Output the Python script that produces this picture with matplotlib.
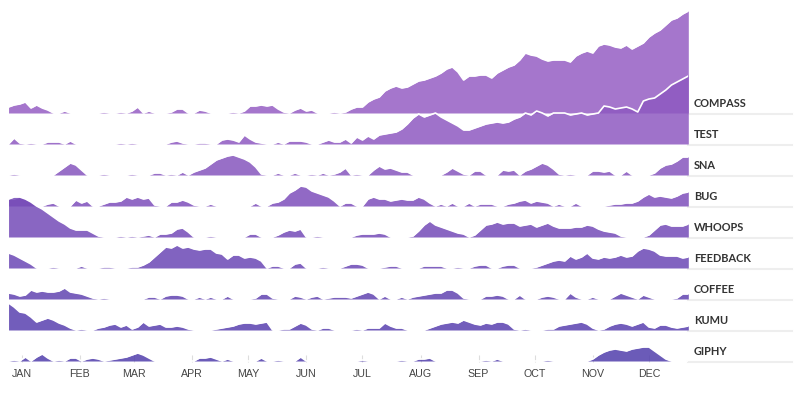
import pandas as pd
import matplotlib.pyplot as plt
import matplotlib.transforms as mtransforms

# --- data: daily activity per channel, sampled every 3 days ---
dates = pd.date_range('2015-12-25', periods=122, freq='3D')

channels = ['COMPASS', 'TEST', 'SNA', 'BUG', 'WHOOPS', 'FEEDBACK', 'COFFEE', 'KUMU', 'GIPHY']

compass = [6, 8, 9, 11, 5, 8, 5, 3, 0, 0,
           2, 0, 0, 0, 0, 0, 0, 1, 0, 0,
           1, 0, 2, 6, 0, 2, 0, 0, 0, 1,
           4, 4, 0, 0, 3, 2, 0, 0, 0, 0,
           1, 0, 2, 7, 7, 8, 7, 8, 4, 1,
           0, 3, 5, 2, 3, 0, 0, 0, 1, 0,
           1, 4, 6, 6, 11, 14, 16, 22, 25, 27,
           25, 26, 29, 32, 33, 35, 37, 40, 44, 46,
           41, 33, 37, 37, 38, 38, 35, 40, 43, 46,
           48, 53, 60, 58, 57, 54, 52, 53, 53, 53,
           51, 57, 60, 62, 60, 67, 69, 68, 66, 65,
           68, 64, 67, 70, 76, 80, 83, 88, 93, 95,
           99, 102]
test = [0, 6, 1, 0, 1, 0, 0, 2, 2, 2,
        0, 3, 0, 0, 0, 0, 0, 0, 0, 0,
        1, 0, 1, 0, 0, 0, 0, 0, 0, 2,
        3, 1, 0, 0, 1, 1, 0, 0, 4, 5,
        4, 2, 9, 5, 2, 1, 0, 0, 2, 0,
        3, 3, 3, 2, 0, 0, 2, 4, 2, 2,
        5, 1, 7, 4, 8, 5, 9, 10, 11, 12,
        15, 20, 26, 30, 27, 29, 31, 27, 24, 21,
        18, 14, 14, 16, 18, 20, 21, 22, 21, 22,
        25, 27, 31, 29, 33, 31, 28, 31, 31, 31,
        29, 30, 31, 29, 30, 31, 38, 37, 35, 36,
        37, 35, 32, 43, 45, 46, 50, 54, 59, 62,
        65, 68]
sna = [0, 1, 0, 0, 0, 0, 0, 0, 0, 4,
       8, 12, 10, 5, 0, 0, 0, 1, 0, 0,
       0, 0, 1, 0, 0, 0, 2, 2, 0, 1,
       0, 3, 0, 3, 5, 7, 11, 15, 17, 19,
       20, 18, 16, 13, 8, 1, 0, 0, 2, 0,
       0, 2, 0, 0, 1, 0, 2, 0, 1, 3,
       7, 0, 1, 0, 0, 5, 9, 6, 7, 5,
       3, 3, 0, 0, 0, 0, 0, 0, 3, 7,
       4, 1, 0, 4, 4, 0, 0, 0, 5, 4,
       5, 0, 4, 6, 9, 12, 10, 6, 1, 0,
       1, 0, 0, 0, 4, 4, 3, 4, 0, 0,
       4, 0, 0, 0, 0, 2, 7, 10, 11, 14,
       18, 18]
bug = [7, 7, 9, 8, 4, 0, 0, 2, 3, 0,
       0, 0, 6, 3, 5, 0, 0, 2, 4, 4,
       5, 9, 7, 9, 7, 8, 1, 0, 0, 4,
       4, 6, 4, 1, 0, 0, 2, 0, 0, 0,
       0, 0, 0, 0, 3, 0, 0, 3, 4, 7,
       13, 16, 20, 19, 15, 13, 11, 9, 5, 0,
       3, 3, 0, 0, 7, 9, 7, 7, 5, 6,
       7, 6, 6, 9, 7, 3, 0, 2, 0, 3,
       0, 0, 3, 0, 2, 2, 2, 0, 0, 2,
       3, 5, 6, 3, 5, 4, 3, 0, 2, 0,
       0, 3, 0, 0, 0, 0, 0, 1, 2, 2,
       3, 3, 5, 9, 12, 9, 10, 9, 8, 10,
       13, 14]
whoops = [38, 40, 40, 38, 35, 31, 28, 24, 20, 16,
          13, 9, 7, 7, 7, 4, 1, 0, 0, 0,
          1, 0, 1, 0, 1, 2, 0, 3, 3, 4,
          8, 9, 5, 0, 0, 0, 1, 0, 0, 0,
          0, 0, 0, 3, 3, 0, 0, 0, 2, 5,
          7, 6, 8, 0, 0, 1, 0, 0, 0, 0,
          0, 0, 2, 3, 3, 3, 4, 3, 0, 0,
          0, 0, 1, 6, 12, 16, 12, 10, 8, 6,
          4, 3, 0, 2, 7, 12, 13, 15, 13, 14,
          14, 11, 12, 13, 10, 12, 14, 11, 9, 9,
          9, 10, 10, 12, 11, 8, 6, 5, 4, 1,
          0, 0, 0, 0, 2, 7, 12, 13, 11, 11,
          11, 13]
feedback = [15, 13, 10, 7, 4, 0, 0, 0, 1, 0,
            0, 0, 0, 2, 0, 0, 0, 1, 1, 0,
            0, 0, 1, 1, 3, 6, 11, 16, 21, 20,
            23, 20, 21, 19, 18, 19, 19, 15, 14, 9,
            13, 13, 10, 11, 10, 7, 0, 2, 2, 0,
            0, 4, 5, 0, 0, 0, 1, 0, 0, 0,
            2, 4, 4, 3, 0, 0, 0, 1, 2, 2,
            0, 0, 0, 0, 2, 2, 2, 2, 0, 0,
            1, 0, 0, 2, 3, 3, 0, 0, 2, 3,
            3, 0, 0, 0, 1, 3, 5, 7, 8, 7,
            12, 9, 11, 15, 10, 9, 11, 10, 11, 13,
            11, 12, 17, 20, 19, 17, 13, 12, 12, 12,
            10, 11]
coffee = [6, 5, 3, 4, 9, 7, 8, 7, 7, 8,
          11, 7, 6, 5, 3, 1, 0, 1, 0, 0,
          0, 0, 0, 0, 0, 2, 2, 0, 3, 4,
          4, 3, 0, 0, 2, 0, 2, 0, 0, 3,
          0, 0, 0, 0, 1, 5, 5, 1, 0, 0,
          0, 3, 2, 0, 2, 3, 0, 1, 2, 2,
          2, 1, 3, 5, 7, 5, 0, 3, 0, 0,
          2, 0, 2, 3, 4, 5, 6, 6, 9, 9,
          6, 1, 0, 0, 0, 3, 3, 4, 3, 0,
          0, 4, 0, 0, 0, 2, 3, 2, 0, 0,
          6, 2, 0, 0, 2, 0, 0, 0, 3, 6,
          4, 2, 0, 4, 2, 0, 0, 0, 0, 1,
          5, 5]
kumu = [27, 23, 18, 17, 13, 8, 10, 12, 10, 7,
        5, 2, 0, 1, 0, 0, 2, 3, 5, 6,
        3, 5, 1, 3, 8, 4, 5, 6, 3, 3,
        4, 3, 1, 0, 0, 0, 0, 1, 2, 3,
        4, 6, 7, 7, 6, 7, 8, 0, 0, 1,
        1, 4, 7, 5, 1, 0, 2, 2, 0, 0,
        0, 0, 1, 0, 2, 2, 2, 7, 4, 2,
        2, 0, 0, 0, 0, 2, 4, 6, 7, 8,
        7, 10, 8, 6, 5, 7, 6, 8, 8, 6,
        1, 0, 1, 0, 0, 0, 1, 1, 4, 5,
        6, 7, 8, 6, 2, 0, 1, 4, 6, 7,
        6, 4, 6, 8, 3, 2, 5, 5, 3, 2,
        3, 4]
giphy = [0, 1, 0, 4, 0, 4, 7, 3, 0, 1,
         0, 3, 3, 0, 2, 3, 2, 0, 1, 2,
         3, 4, 6, 8, 6, 3, 0, 0, 0, 0,
         0, 0, 0, 0, 3, 3, 4, 2, 0, 2,
         0, 0, 0, 0, 0, 3, 0, 0, 1, 0,
         0, 0, 4, 0, 0, 0, 0, 0, 0, 0,
         0, 0, 0, 1, 0, 0, 0, 0, 0, 0,
         1, 0, 0, 2, 2, 3, 0, 0, 0, 0,
         0, 0, 0, 0, 0, 1, 0, 2, 0, 0,
         0, 0, 0, 0, 0, 0, 1, 0, 0, 0,
         0, 0, 0, 0, 2, 6, 9, 11, 12, 11,
         10, 12, 13, 14, 14, 10, 6, 2, 0, 0,
         0, 0]

series = [compass, test, sna, bug, whoops, feedback, coffee, kumu, giphy]
colors = ['#955ec3', '#8e59c1', '#8656be', '#7e4fbb', '#754bb8',
          '#6b48b5', '#6244b1', '#5940af', '#513eac']

month_ticks = pd.date_range('2016-01-01', periods=12, freq='MS')
month_labels = ['JAN', 'FEB', 'MAR', 'APR', 'MAY', 'JUN',
                'JUL', 'AUG', 'SEP', 'OCT', 'NOV', 'DEC']

# --- layout (sizes in pixels of the 800x395 picture) ---
W, H = 800, 395
fig = plt.figure(figsize=(W / 100, H / 100), dpi=100)
ax_bottom = 362
ax = fig.add_axes([8 / W, (H - ax_bottom) / H, 680 / W, ax_bottom / H])
ax.set_xlim(pd.Timestamp('2015-12-24 17:00'), pd.Timestamp('2016-12-21 20:00'))
ax.set_ylim(0, ax_bottom)

row_gap = 31
first_base = ax_bottom - 113
trans = mtransforms.blended_transform_factory(ax.transAxes, ax.transData)

for i, (name, vals) in enumerate(zip(channels, series)):
    base = first_base - i * row_gap
    top = [base + v for v in vals]
    ax.fill_between(dates, base, top, color=colors[i], alpha=0.85, linewidth=0, zorder=2 + i)
    ax.plot(dates, top, color='white', lw=1.2, zorder=2 + i)
    # label and separator on the right
    ax.plot([1.0, 1.153], [base - 0.5, base - 0.5], transform=trans, color='#eeeeee',
            lw=1.5, clip_on=False, zorder=1)
    ax.text(1.0088, base + 9.5, name, transform=trans, va='center', ha='left',
            fontsize=7.9, fontweight='bold', family=['Lato', 'DejaVu Sans'], color='#333333')

for s in ax.spines.values():
    s.set_visible(False)
ax.set_yticks([])
ax.set_xticks(month_ticks)
ax.set_xticklabels(month_labels, family=['Liberation Sans', 'DejaVu Sans'], fontsize=7.7,
                   color='#444444')
ax.tick_params(axis='x', direction='in', length=5, width=0.8, color='#dddddd', pad=5)

fig.savefig('out.png', dpi=100)
